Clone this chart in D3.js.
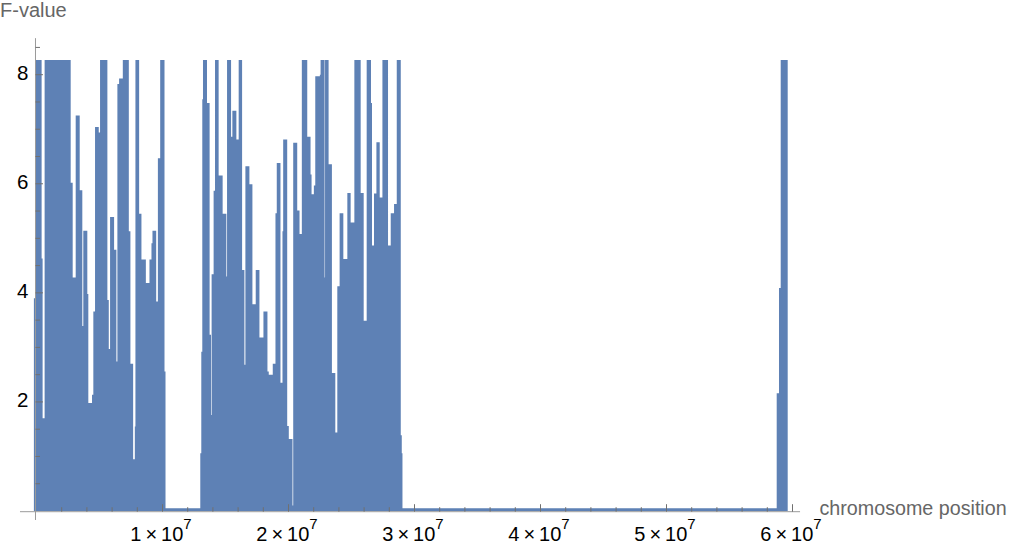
<!DOCTYPE html>
<html><head><meta charset="utf-8">
<script src="https://cdn.jsdelivr.net/npm/d3@7"></script>
<style>body{margin:0;background:#fff}svg{display:block}</style>
</head><body>
<svg id="chart" width="1010" height="554"></svg>
<script>
// Step start positions (bp) and F-values
const positions = [-207000,-88000,406000,485000,644000,2713000,2872000,3111000,3429000,3636000,3715000,4033000,4113000,4407000,4511000,4646000,4940000,5044000,5625000,5736000,5839000,6158000,6340000,6420000,6555000,6850000,7327000,7454000,7669000,7804000,7852000,8146000,8329000,8679000,8966000,9125000,9204000,9499000,9634000,9817000,10159000,10239000,
12999000,13079000,13158000,13214000,13532000,13739000,13850000,13898000,14057000,14169000,14455000,14773000,15068000,15123000,15442000,15545000,15863000,16046000,16317000,16500000,16579000,16897000,17136000,17399000,17693000,18011000,18329000,18433000,18751000,18966000,19069000,19363000,19523000,19578000,19897000,20024000,20318000,20374000,20692000,20875000,21058000,21488000,21750000,21830000,22013000,22124000,22490000,22546000,22864000,22900000,23182000,23445000,23715000,23874000,24057000,24352000,24670000,24932000,25227000,25728000,25967000,26205000,26547000,26627000,26786000,26977000,27239000,27454000,27899000,28114000,28377000,28592000,28910000,28990000,29045000,
58746000,58928000,59064000,59619000];
const fValues = [3.90,8.27,4.63,1.70,8.27,6.02,4.28,7.25,5.88,3.39,5.14,3.98,1.98,2.13,3.66,7.04,6.94,8.27,3.87,2.97,5.39,4.79,2.74,7.83,7.93,8.27,5.13,2.70,0.95,1.55,8.27,5.45,4.61,4.18,4.61,4.91,5.14,3.84,6.47,8.27,2.56,0.05,
1.06,2.92,7.55,8.27,7.48,3.23,1.76,4.34,5.87,8.27,6.15,5.45,4.30,8.27,6.86,7.34,6.81,8.27,4.42,2.68,6.32,5.99,3.79,4.42,3.18,3.66,2.56,2.50,2.70,5.46,6.38,2.35,5.13,6.81,1.56,1.32,0.10,6.75,5.51,5.08,8.27,6.86,6.17,5.81,5.97,7.97,8.00,8.27,4.28,8.27,6.36,2.53,1.44,4.12,5.46,4.62,5.83,5.29,8.27,5.83,3.49,8.27,7.48,4.87,5.82,6.76,5.75,8.27,4.87,5.46,5.63,8.27,1.39,1.06,0.05,
2.16,4.09,8.27,8.27];
const xMajorTicks = [1e7,2e7,3e7,4e7,5e7,6e7];
const xTickMantissas = ["1","2","3","4","5","6"];
const yMajorTicks = [2,4,6,8];
const xLabel = "chromosome position";
const yLabel = "F-value";

const svg = d3.select("#chart");
const font = "'Liberation Sans', Arial, sans-serif";
const x = d3.scaleLinear().domain([0, 6e7]).range([36.5, 792.5]);
const y = d3.scaleLinear().domain([0, 8]).range([511, 74.7]);

const data = positions.map((p, i) => ({p, v: fValues[i]}));

const area = d3.area()
  .x(d => x(d.p))
  .y0(y(0))
  .y1(d => y(d.v))
  .curve(d3.curveStepAfter);

svg.append("path")
  .datum(data)
  .attr("d", area)
  .attr("fill", "#5e81b5")
  .attr("stroke", "none");

const axisColor = "#9a9a9a", tickColor = "#707070";

// x axis line
svg.append("line")
  .attr("x1", x(-1.31e6)).attr("x2", x(6.06e7))
  .attr("y1", y(0) + 0.7).attr("y2", y(0) + 0.7)
  .attr("stroke", axisColor).attr("stroke-width", 1);
// y axis line
svg.append("line")
  .attr("x1", x(-8e4)).attr("x2", x(-8e4))
  .attr("y1", y(8.67)).attr("y2", y(-0.165))
  .attr("stroke", axisColor).attr("stroke-width", 1);

// x ticks
const xMinor = d3.range(2e6, 6.01e7, 2e6).filter(v => v % 1e7 !== 0);
const gx = svg.append("g");
gx.selectAll("line.minor").data(xMinor).join("line")
  .attr("x1", d => x(d)).attr("x2", d => x(d))
  .attr("y1", y(0) + 0.7).attr("y2", y(0) + 0.7 - 4.5)
  .attr("stroke", tickColor).attr("stroke-width", 1);
gx.selectAll("line.major").data(xMajorTicks).join("line")
  .attr("x1", d => x(d)).attr("x2", d => x(d))
  .attr("y1", y(0) + 0.7).attr("y2", y(0) + 0.7 - 7.5)
  .attr("stroke", tickColor).attr("stroke-width", 1);

const xl = svg.append("g").selectAll("text").data(xMajorTicks).join("text")
  .attr("x", d => x(d) - 1.5)
  .attr("y", 541)
  .attr("text-anchor", "middle")
  .attr("font-family", font)
  .attr("font-size", 20)
  .attr("fill", "#000");
xl.append("tspan").text((d, i) => xTickMantissas[i] + "\u2009\u00d7\u200910");
xl.append("tspan").attr("dy", -12).attr("font-size", 15).text("7");

// y ticks
const yMinor = d3.range(0.5, 8.6, 0.5).filter(v => v % 2 !== 0);
const gy = svg.append("g");
gy.selectAll("line.minor").data(yMinor).join("line")
  .attr("x1", x(-8e4)).attr("x2", x(-8e4) + 4.5)
  .attr("y1", d => y(d)).attr("y2", d => y(d))
  .attr("stroke", tickColor).attr("stroke-width", 1);
gy.selectAll("line.major").data(yMajorTicks).join("line")
  .attr("x1", x(-8e4)).attr("x2", x(-8e4) + 7.5)
  .attr("y1", d => y(d)).attr("y2", d => y(d))
  .attr("stroke", tickColor).attr("stroke-width", 1);
svg.append("g").selectAll("text").data(yMajorTicks).join("text")
  .attr("x", 28.5)
  .attr("y", d => y(d) + 4.8)
  .attr("text-anchor", "end")
  .attr("font-family", font)
  .attr("font-size", 20.5)
  .attr("fill", "#000")
  .text(d => d);

// axis labels
svg.append("text").attr("x", 0).attr("y", 17.3)
  .attr("font-family", font).attr("font-size", 20).attr("fill", "#666")
  .text(yLabel);
svg.append("text").attr("x", 819.5).attr("y", 514.5)
  .attr("font-family", font).attr("font-size", 19.7).attr("fill", "#666")
  .text(xLabel);
</script>
</body></html>
